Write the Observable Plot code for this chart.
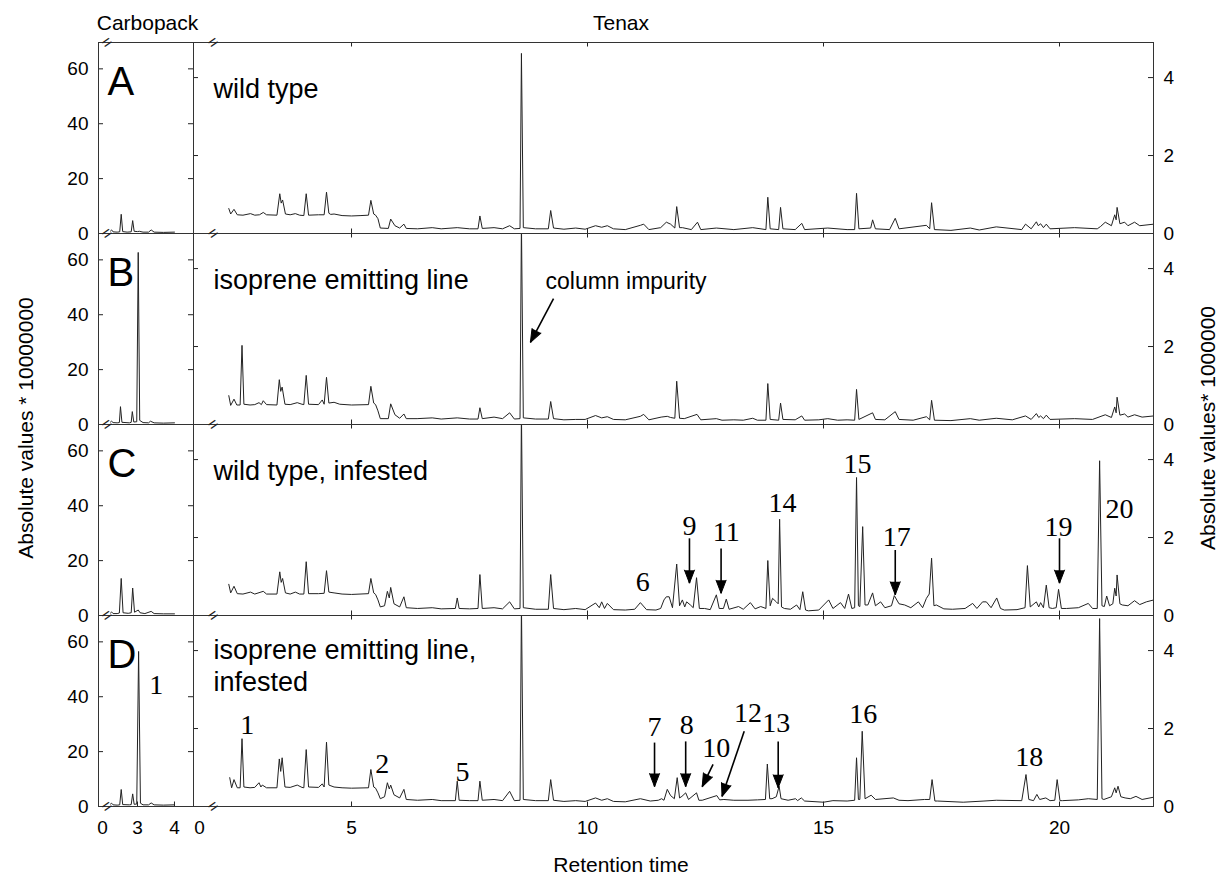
<!DOCTYPE html>
<html><head><meta charset="utf-8">
<script src="https://cdn.jsdelivr.net/npm/d3@7"></script>
<script src="https://cdn.jsdelivr.net/npm/@observablehq/plot@0.6"></script>
<style>
body{margin:0;background:#fff;}
#fig{position:relative;width:1224px;height:880px;font-family:"Liberation Sans",Arial,sans-serif;color:#000;overflow:hidden;}
#fig svg{position:absolute;left:0;top:0;background:transparent;}
.lbl{position:absolute;white-space:nowrap;transform:translate(-50%,-50%);font-size:21px;}
.rot{transform:translate(-50%,-50%) rotate(-90deg);}
</style></head><body><div id="fig"></div>
<script>
// ---------- data ----------
const panels = ["A", "B", "C", "D"];
const panelNames = ["wild type", "isoprene emitting line", "wild type, infested", "isoprene emitting line,\ninfested"];

const carboXTicks = [0, 3, 4];
const carboYTicks = [0, 20, 40, 60];
const tenaxXTicks = [0, 5, 10, 15, 20];
const tenaxYTicks = [0, 2, 4];

// Carbopack chromatograms [retention time, value*1e7]
const carboA = [[2.27,0.9],[2.30,1.3],[2.34,0.6],[2.45,0.5],[2.52,0.6],[2.56,7.0],[2.60,0.7],[2.72,0.5],[2.83,0.6],[2.87,4.7],[2.91,0.8],[3.00,0.7],[3.05,0.8],[3.15,0.5],[3.30,0.5],[3.37,1.3],[3.45,0.5],[3.70,0.4],[4.00,0.5]];
const carboB = [[2.27,0.9],[2.30,1.2],[2.34,0.7],[2.45,0.6],[2.51,0.7],[2.54,6.5],[2.58,0.8],[2.78,0.6],[2.83,0.8],[2.86,4.7],[2.90,0.9],[2.98,1.0],[3.02,62.7],[3.06,1.5],[3.15,0.7],[3.30,0.6],[3.35,1.2],[3.45,0.6],[3.70,0.5],[4.00,0.6]];
const carboC = [[2.27,0.9],[2.30,1.3],[2.34,0.7],[2.45,0.7],[2.51,0.9],[2.56,13.5],[2.61,1.0],[2.75,0.8],[2.83,1.0],[2.87,10.0],[2.92,1.2],[3.02,2.0],[3.07,1.0],[3.20,0.7],[3.37,1.5],[3.45,0.7],[3.70,0.6],[4.00,0.6]];
const carboD = [[2.27,0.9],[2.30,1.2],[2.34,0.6],[2.45,0.5],[2.52,0.6],[2.56,6.2],[2.60,0.7],[2.78,0.6],[2.83,0.7],[2.87,4.6],[2.91,0.8],[2.98,0.9],[3.03,56.5],[3.08,1.2],[3.15,0.6],[3.30,0.6],[3.37,1.3],[3.45,0.6],[3.70,0.5],[4.00,0.6]];

// Tenax chromatograms [retention time, value*1e6]
const tenaxA = [[2.40,0.64],[2.44,0.50],[2.51,0.62],[2.58,0.48],[2.70,0.47],[2.86,0.51],[2.95,0.47],[3.05,0.48],[3.13,0.54],[3.20,0.48],[3.42,0.47],[3.48,1.02],[3.51,0.78],[3.54,0.86],[3.60,0.50],[3.70,0.48],[3.81,0.51],[3.90,0.47],[3.99,0.46],[4.04,1.02],[4.09,0.47],[4.30,0.48],[4.42,0.48],[4.47,1.06],[4.52,0.52],[4.56,0.49],[4.63,0.50],[4.80,0.46],[5.00,0.45],[5.20,0.46],[5.36,0.47],[5.41,0.85],[5.47,0.50],[5.51,0.47],[5.56,0.38],[5.61,0.14],[5.78,0.13],[5.83,0.37],[5.92,0.20],[6.02,0.14],[6.11,0.24],[6.16,0.13],[6.40,0.12],[6.71,0.15],[6.90,0.12],[7.24,0.15],[7.50,0.12],[7.68,0.12],[7.72,0.45],[7.77,0.13],[8.02,0.15],[8.20,0.12],[8.35,0.20],[8.45,0.12],[8.57,0.13],[8.60,4.62],[8.64,0.15],[8.90,0.12],[9.17,0.12],[9.22,0.59],[9.28,0.14],[9.50,0.11],[9.75,0.14],[9.95,0.11],[10.17,0.20],[10.30,0.16],[10.42,0.20],[10.55,0.12],[10.80,0.10],[11.12,0.21],[11.19,0.24],[11.30,0.10],[11.55,0.15],[11.67,0.29],[11.76,0.24],[11.85,0.14],[11.89,0.69],[11.95,0.15],[12.01,0.15],[12.20,0.10],[12.33,0.29],[12.40,0.10],[12.73,0.14],[13.10,0.10],[13.50,0.15],[13.78,0.10],[13.82,0.93],[13.87,0.12],[14.05,0.10],[14.09,0.67],[14.14,0.12],[14.40,0.10],[14.54,0.26],[14.60,0.10],[15.09,0.14],[15.50,0.10],[15.66,0.10],[15.70,1.03],[15.75,0.12],[16.00,0.14],[16.04,0.35],[16.10,0.12],[16.40,0.10],[16.52,0.39],[16.60,0.12],[17.18,0.21],[17.25,0.12],[17.29,0.79],[17.35,0.10],[17.70,0.08],[18.11,0.14],[18.30,0.09],[18.66,0.17],[19.20,0.10],[19.28,0.24],[19.40,0.12],[19.51,0.30],[19.55,0.20],[19.60,0.25],[19.66,0.15],[19.72,0.24],[19.80,0.12],[20.32,0.15],[20.80,0.12],[20.87,0.18],[20.97,0.29],[21.10,0.20],[21.17,0.48],[21.20,0.35],[21.22,0.67],[21.28,0.25],[21.38,0.29],[21.45,0.20],[21.59,0.29],[21.70,0.20],[22.00,0.24]];
const tenaxB = [[2.40,0.74],[2.44,0.49],[2.51,0.65],[2.57,0.50],[2.64,0.50],[2.68,2.03],[2.72,0.52],[2.85,0.50],[2.95,0.51],[3.04,0.56],[3.09,0.51],[3.13,0.61],[3.20,0.51],[3.42,0.50],[3.47,1.15],[3.50,0.85],[3.53,0.96],[3.59,0.52],[3.70,0.51],[3.85,0.56],[3.95,0.52],[3.99,0.51],[4.04,1.26],[4.09,0.52],[4.30,0.51],[4.38,0.63],[4.42,0.52],[4.47,1.21],[4.52,0.55],[4.63,0.57],[4.75,0.52],[5.00,0.50],[5.36,0.51],[5.41,0.98],[5.47,0.55],[5.51,0.51],[5.56,0.35],[5.61,0.15],[5.78,0.15],[5.83,0.53],[5.92,0.25],[6.02,0.16],[6.11,0.27],[6.16,0.15],[6.39,0.15],[6.71,0.17],[6.90,0.14],[7.24,0.17],[7.50,0.14],[7.68,0.14],[7.72,0.43],[7.77,0.15],[8.02,0.19],[8.20,0.15],[8.35,0.30],[8.45,0.14],[8.57,0.15],[8.60,5.20],[8.64,0.17],[8.90,0.14],[9.17,0.14],[9.22,0.59],[9.28,0.15],[9.50,0.12],[9.75,0.13],[9.95,0.13],[10.17,0.23],[10.30,0.17],[10.42,0.20],[10.55,0.13],[10.80,0.12],[11.12,0.21],[11.19,0.26],[11.30,0.12],[11.56,0.19],[11.69,0.21],[11.76,0.18],[11.85,0.16],[11.89,1.11],[11.95,0.16],[12.05,0.15],[12.32,0.26],[12.40,0.12],[12.73,0.15],[12.85,0.11],[13.10,0.12],[13.30,0.11],[13.50,0.16],[13.60,0.11],[13.78,0.11],[13.82,1.05],[13.87,0.13],[14.05,0.11],[14.09,0.55],[14.14,0.13],[14.40,0.12],[14.54,0.22],[14.60,0.11],[14.90,0.12],[15.09,0.15],[15.30,0.11],[15.50,0.12],[15.66,0.11],[15.70,0.90],[15.75,0.13],[16.04,0.30],[16.10,0.13],[16.30,0.12],[16.52,0.33],[16.60,0.13],[16.90,0.11],[17.18,0.20],[17.25,0.12],[17.29,0.62],[17.35,0.11],[17.70,0.10],[18.11,0.15],[18.30,0.11],[18.66,0.16],[19.00,0.12],[19.28,0.22],[19.40,0.13],[19.51,0.28],[19.56,0.18],[19.60,0.22],[19.66,0.15],[19.72,0.24],[19.80,0.13],[20.32,0.15],[20.70,0.13],[20.97,0.25],[21.10,0.18],[21.17,0.45],[21.20,0.30],[21.22,0.70],[21.28,0.24],[21.38,0.27],[21.45,0.19],[21.59,0.25],[21.75,0.19],[22.00,0.22]];
const tenaxC = [[2.40,0.80],[2.44,0.58],[2.51,0.75],[2.58,0.56],[2.70,0.55],[2.86,0.60],[2.95,0.55],[3.13,0.62],[3.20,0.55],[3.42,0.55],[3.48,1.12],[3.51,0.85],[3.54,0.95],[3.60,0.58],[3.70,0.55],[3.81,0.60],[3.90,0.55],[3.99,0.55],[4.04,1.38],[4.09,0.56],[4.30,0.56],[4.42,0.57],[4.47,1.15],[4.52,0.60],[4.63,0.58],[4.80,0.55],[5.00,0.54],[5.36,0.56],[5.41,0.95],[5.47,0.58],[5.51,0.54],[5.56,0.40],[5.61,0.22],[5.70,0.25],[5.76,0.62],[5.80,0.45],[5.83,0.72],[5.90,0.30],[6.02,0.22],[6.11,0.48],[6.16,0.20],[6.40,0.18],[6.71,0.20],[6.90,0.17],[7.20,0.18],[7.24,0.45],[7.28,0.18],[7.50,0.17],[7.68,0.18],[7.72,1.05],[7.77,0.18],[8.02,0.20],[8.20,0.17],[8.35,0.35],[8.45,0.17],[8.57,0.18],[8.60,5.20],[8.64,0.20],[8.90,0.16],[9.17,0.16],[9.22,1.05],[9.28,0.18],[9.50,0.15],[9.75,0.18],[9.95,0.15],[10.17,0.32],[10.25,0.20],[10.30,0.35],[10.36,0.18],[10.42,0.31],[10.55,0.15],[10.80,0.14],[11.00,0.16],[11.12,0.33],[11.25,0.15],[11.45,0.14],[11.55,0.18],[11.62,0.40],[11.67,0.48],[11.73,0.48],[11.80,0.20],[11.89,1.32],[11.95,0.25],[12.01,0.40],[12.06,0.22],[12.10,0.35],[12.18,0.27],[12.24,0.20],[12.31,0.97],[12.37,0.18],[12.48,0.18],[12.60,0.15],[12.73,0.53],[12.79,0.18],[12.88,0.18],[12.94,0.42],[13.00,0.16],[13.20,0.23],[13.30,0.16],[13.45,0.33],[13.55,0.17],[13.67,0.23],[13.78,0.18],[13.82,1.41],[13.87,0.25],[13.92,0.44],[14.00,0.35],[14.04,0.30],[14.07,2.47],[14.11,0.22],[14.17,0.18],[14.30,0.16],[14.43,0.27],[14.50,0.15],[14.56,0.61],[14.62,0.14],[14.68,0.12],[14.90,0.14],[15.11,0.40],[15.20,0.18],[15.36,0.33],[15.45,0.18],[15.53,0.55],[15.60,0.18],[15.66,0.20],[15.70,3.54],[15.74,0.25],[15.77,0.23],[15.83,2.28],[15.88,0.27],[15.94,0.27],[16.04,0.58],[16.10,0.25],[16.21,0.35],[16.30,0.20],[16.44,0.25],[16.50,0.51],[16.60,0.30],[16.72,0.27],[16.85,0.20],[17.01,0.35],[17.10,0.20],[17.18,0.44],[17.24,0.55],[17.29,1.47],[17.34,0.25],[17.39,0.27],[17.55,0.17],[17.73,0.16],[18.00,0.18],[18.16,0.31],[18.25,0.18],[18.37,0.35],[18.45,0.35],[18.55,0.20],[18.67,0.45],[18.75,0.18],[18.83,0.14],[19.10,0.15],[19.27,0.20],[19.32,1.28],[19.38,0.22],[19.51,0.35],[19.56,0.22],[19.60,0.33],[19.66,0.20],[19.72,0.78],[19.78,0.20],[19.85,0.18],[19.93,0.20],[19.98,0.67],[20.04,0.18],[20.15,0.18],[20.40,0.20],[20.61,0.31],[20.70,0.18],[20.80,0.18],[20.85,3.97],[20.90,0.25],[20.95,0.23],[21.00,0.50],[21.06,0.25],[21.13,0.30],[21.17,0.70],[21.20,0.50],[21.22,1.04],[21.28,0.30],[21.33,0.27],[21.45,0.25],[21.59,0.38],[21.70,0.28],[21.84,0.35],[22.00,0.40]];
const tenaxD = [[2.42,0.74],[2.46,0.48],[2.51,0.69],[2.58,0.48],[2.64,0.48],[2.68,1.74],[2.72,0.50],[2.85,0.48],[2.95,0.49],[3.04,0.61],[3.08,0.50],[3.11,0.55],[3.20,0.48],[3.42,0.48],[3.47,1.22],[3.50,0.90],[3.53,1.25],[3.59,0.50],[3.70,0.49],[3.85,0.55],[3.95,0.49],[3.99,0.48],[4.04,1.46],[4.09,0.50],[4.30,0.49],[4.38,0.58],[4.42,0.50],[4.47,1.65],[4.52,0.55],[4.63,0.50],[4.80,0.48],[5.00,0.47],[5.36,0.48],[5.41,0.95],[5.47,0.50],[5.51,0.47],[5.56,0.35],[5.61,0.20],[5.70,0.25],[5.76,0.61],[5.80,0.45],[5.83,0.55],[5.90,0.30],[6.02,0.22],[6.11,0.44],[6.16,0.18],[6.40,0.16],[6.71,0.18],[6.90,0.15],[7.20,0.15],[7.24,0.65],[7.28,0.16],[7.50,0.15],[7.68,0.15],[7.72,0.65],[7.77,0.16],[8.02,0.18],[8.20,0.15],[8.35,0.39],[8.45,0.15],[8.57,0.16],[8.60,5.20],[8.64,0.18],[8.90,0.15],[9.17,0.15],[9.22,0.69],[9.28,0.16],[9.50,0.13],[9.75,0.15],[9.95,0.13],[10.17,0.22],[10.30,0.16],[10.42,0.20],[10.55,0.13],[10.80,0.12],[11.12,0.20],[11.33,0.14],[11.50,0.16],[11.57,0.20],[11.62,0.16],[11.69,0.44],[11.76,0.28],[11.84,0.20],[11.90,0.74],[11.95,0.22],[12.00,0.26],[12.08,0.35],[12.14,0.18],[12.31,0.35],[12.36,0.16],[12.43,0.16],[12.74,0.28],[12.80,0.17],[12.89,0.18],[13.10,0.16],[13.40,0.16],[13.60,0.17],[13.77,0.18],[13.81,1.09],[13.86,0.20],[13.91,0.20],[14.00,0.25],[14.06,0.52],[14.10,0.20],[14.25,0.16],[14.41,0.20],[14.45,0.15],[14.53,0.22],[14.60,0.14],[15.00,0.11],[15.20,0.15],[15.50,0.14],[15.66,0.16],[15.70,1.25],[15.74,0.18],[15.77,0.18],[15.82,1.93],[15.88,0.20],[16.01,0.29],[16.10,0.18],[16.48,0.22],[16.60,0.16],[16.79,0.15],[17.14,0.18],[17.25,0.18],[17.30,0.69],[17.36,0.14],[17.42,0.14],[17.96,0.11],[18.40,0.14],[18.66,0.16],[19.20,0.15],[19.29,0.82],[19.35,0.18],[19.45,0.15],[19.52,0.31],[19.58,0.18],[19.71,0.22],[19.80,0.15],[19.90,0.16],[19.95,0.69],[20.01,0.15],[20.06,0.15],[20.40,0.17],[20.61,0.20],[20.80,0.18],[20.85,4.82],[20.90,0.20],[20.94,0.18],[21.10,0.25],[21.17,0.48],[21.20,0.35],[21.24,0.52],[21.30,0.25],[21.39,0.22],[21.50,0.20],[21.62,0.26],[21.75,0.18],[22.00,0.24]];

// peak number labels (panel, retention time, value, text)
const tenaxPeakLabels = [
  ["C", 11.17, 0.85, "6"], ["C", 12.16, 2.30, "9"], ["C", 12.94, 2.14, "11"], ["C", 14.13, 2.88, "14"],
  ["C", 15.72, 3.88, "15"], ["C", 16.55, 2.02, "17"], ["C", 19.98, 2.28, "19"], ["C", 21.27, 2.73, "20"],
  ["D", 2.79, 2.08, "1"], ["D", 5.65, 1.10, "2"], ["D", 7.35, 0.89, "5"], ["D", 11.42, 2.05, "7"],
  ["D", 12.10, 2.08, "8"], ["D", 12.73, 1.51, "10"], ["D", 13.40, 2.41, "12"], ["D", 14.00, 2.13, "13"],
  ["D", 15.84, 2.38, "16"], ["D", 19.36, 1.27, "18"]
];
const carboPeakLabels = [["D", 3.51, 44.4, "1"]];
// arrows (panel, x1, y1, x2, y2)
const tenaxArrows = [
  ["B", 9.28, 3.23, 8.79, 2.11],
  ["C", 12.16, 1.98, 12.16, 0.83], ["C", 12.83, 1.72, 12.83, 0.57], ["C", 16.52, 1.68, 16.52, 0.53], ["C", 20.00, 1.98, 20.00, 0.83],
  ["D", 11.42, 1.64, 11.42, 0.51], ["D", 12.08, 1.67, 12.08, 0.51], ["D", 12.66, 1.08, 12.43, 0.51],
  ["D", 13.32, 1.93, 12.85, 0.26], ["D", 14.04, 1.67, 14.04, 0.48]
];
const impurityNote = [["B", 9.11, 3.67, "column impurity"]];
// axis break marks (panel, time, value)
const tenaxBreaks = [["A", 2.07, 4.9], ["A", 2.07, 0], ["B", 2.07, 0], ["C", 2.07, 0], ["D", 2.07, 0]];
const carboBreaks = [["A", 1.85, 69.6], ["A", 1.85, 0], ["B", 1.85, 0], ["C", 1.85, 0], ["D", 1.85, 0]];

// ---------- layout ----------
const W = 1224, H = 880, TOP = 41, BOTTOM = 807;
const bandH = (BOTTOM - TOP) / panels.length;
const SANS = "'Liberation Sans', Arial, sans-serif";
const SERIF = "'Liberation Serif', 'Times New Roman', serif";
const INK = "#222";

const carboXDomain = [0, 2.2, 4.52], carboXRange = [102, 107.4, 193.2];
const tenaxXDomain = [0, 1.9, 22.0], tenaxXRange = [199, 204.7, 1153.4];
const carboYMax = 69.6, tenaxYMax = 4.9;
const carboLeft = 98, carboRight = 193, tenaxRight = 1153;

const rowsOf = (series) => panels.flatMap((p, i) => series[i].map(([t, v]) => ({panel: p, t, v})));
const carboRows = rowsOf([carboA, carboB, carboC, carboD]);
const tenaxRows = rowsOf([tenaxA, tenaxB, tenaxC, tenaxD]);
const nameRows = panels.map((p, i) => ({panel: p, name: panelNames[i]}));
const letterRows = panels.map(p => ({panel: p, name: p}));
const tickRows = (vals) => panels.flatMap(p => vals.map(v => ({panel: p, v})));
const toRows = (arr) => arr.map(([panel, t, v, text]) => ({panel, t, v, text}));

const pxX = (tenaxXRange[2] - tenaxXRange[1]) / (tenaxXDomain[2] - tenaxXDomain[1]);
const pxY = bandH / tenaxYMax;
const arrowRows = tenaxArrows.map(([panel, x1, y1, x2, y2]) => ({
  panel, x1, y1, x2, y2,
  angle: Math.atan2((x2 - x1) * pxX, (y2 - y1) * pxY) * 180 / Math.PI
}));

const carboW = carboRight - carboLeft, tenaxW = tenaxRight - carboRight;

const carbo = Plot.plot({
  width: W, height: H,
  marginLeft: carboLeft, marginRight: W - carboRight, marginTop: TOP, marginBottom: H - BOTTOM,
  style: {background: "transparent", fontFamily: SANS, fontSize: "19px", color: "#000"},
  x: {type: "linear", domain: carboXDomain, range: carboXRange, ticks: carboXTicks, tickFormat: d => String(d), tickSize: 0, tickPadding: 14, label: null},
  y: {domain: [0, carboYMax], ticks: carboYTicks, tickFormat: d => String(d), tickSize: 0, tickPadding: 10, label: null},
  fy: {domain: panels, padding: 0, axis: null, label: null},
  marks: [
    Plot.tickY(tickRows(carboYTicks), {y: "v", fy: "panel", insetRight: carboW - 5, stroke: INK}),
    Plot.tickY(tickRows(carboYTicks), {y: "v", fy: "panel", insetLeft: carboW - 5, stroke: INK}),
    Plot.tickX(tickRows([3, 4]).filter(d => d.panel === "D"), {x: "v", fy: "panel", insetTop: bandH - 5, stroke: INK}),
    Plot.line(carboRows, {x: "t", y: "v", z: "panel", fy: "panel", stroke: INK, strokeWidth: 1, clip: true}),
    Plot.frame({stroke: "#333"}),
    Plot.text(letterRows, {fy: "panel", text: "name", frameAnchor: "top-left", dx: 9, dy: 24, lineAnchor: "top", fontSize: 40}),
    Plot.text(toRows(carboPeakLabels), {x: "t", y: "v", fy: "panel", text: "text", fontFamily: SERIF, fontSize: 28}),
    Plot.text(toRows(carboBreaks), {x: "t", y: "v", fy: "panel", text: () => "=", rotate: -35, fontSize: 17, fill: "#222"})
  ]
});

const tenax = Plot.plot({
  width: W, height: H,
  marginLeft: carboRight, marginRight: W - tenaxRight, marginTop: TOP, marginBottom: H - BOTTOM,
  style: {background: "transparent", fontFamily: SANS, fontSize: "19px", color: "#000"},
  x: {type: "linear", domain: tenaxXDomain, range: tenaxXRange, ticks: tenaxXTicks, tickFormat: d => String(d), tickSize: 0, tickPadding: 14, label: null},
  y: {domain: [0, tenaxYMax], ticks: tenaxYTicks, tickFormat: d => String(d), tickSize: 0, tickPadding: 10, axis: "right", label: null},
  fy: {domain: panels, padding: 0, axis: null, label: null},
  marks: [
    Plot.tickY(tickRows(tenaxYTicks), {y: "v", fy: "panel", insetRight: tenaxW - 5, stroke: INK}),
    Plot.tickY(tickRows(tenaxYTicks), {y: "v", fy: "panel", insetLeft: tenaxW - 5, stroke: INK}),
    Plot.tickX(tickRows(tenaxXTicks.slice(1)), {x: "v", fy: "panel", insetBottom: bandH - 5, stroke: INK}),
    Plot.tickX(tickRows(tenaxXTicks.slice(1)), {x: "v", fy: "panel", insetTop: bandH - 5, stroke: INK}),
    Plot.line(tenaxRows, {x: "t", y: "v", z: "panel", fy: "panel", stroke: INK, strokeWidth: 1, clip: true}),
    Plot.frame({stroke: "#333"}),
    Plot.text(nameRows.filter(d => d.panel !== "D"), {fy: "panel", text: "name", frameAnchor: "top-left", dx: 20, dy: 36, lineAnchor: "top", fontSize: 27}),
    Plot.text(nameRows.filter(d => d.panel === "D"), {fy: "panel", text: "name", frameAnchor: "top-left", dx: 20, dy: 20, lineAnchor: "top", fontSize: 27, lineHeight: 1.21}),
    Plot.text(toRows(impurityNote), {x: "t", y: "v", fy: "panel", text: "text", textAnchor: "start", fontSize: 23}),
    Plot.link(arrowRows, {x1: "x1", y1: "y1", x2: "x2", y2: "y2", fy: "panel", stroke: "#000", strokeWidth: 1.6}),
    Plot.vector(arrowRows, {x: "x2", y: "y2", fy: "panel", rotate: "angle", length: 13, r: 5, shape: "spike", anchor: "end", fill: "#000", stroke: "#000", strokeWidth: 1}),
    Plot.text(toRows(tenaxPeakLabels), {x: "t", y: "v", fy: "panel", text: "text", fontFamily: SERIF, fontSize: 28}),
    Plot.text(toRows(tenaxBreaks), {x: "t", y: "v", fy: "panel", text: () => "=", rotate: -35, fontSize: 17, fill: "#222"})
  ]
});

const fig = document.getElementById("fig");
fig.appendChild(carbo);
fig.appendChild(tenax);
const addLabel = (text, x, y, cls) => {
  const d = document.createElement("div");
  d.className = "lbl" + (cls ? " " + cls : "");
  d.textContent = text;
  d.style.left = x + "px";
  d.style.top = y + "px";
  fig.appendChild(d);
};
addLabel("Carbopack", 147.5, 23);
addLabel("Tenax", 621, 23);
addLabel("Retention time", 621, 865, "");
addLabel("Absolute values * 10000000", 26, 428, "rot");
addLabel("Absolute values* 1000000", 1208, 428, "rot");
</script></body></html>
